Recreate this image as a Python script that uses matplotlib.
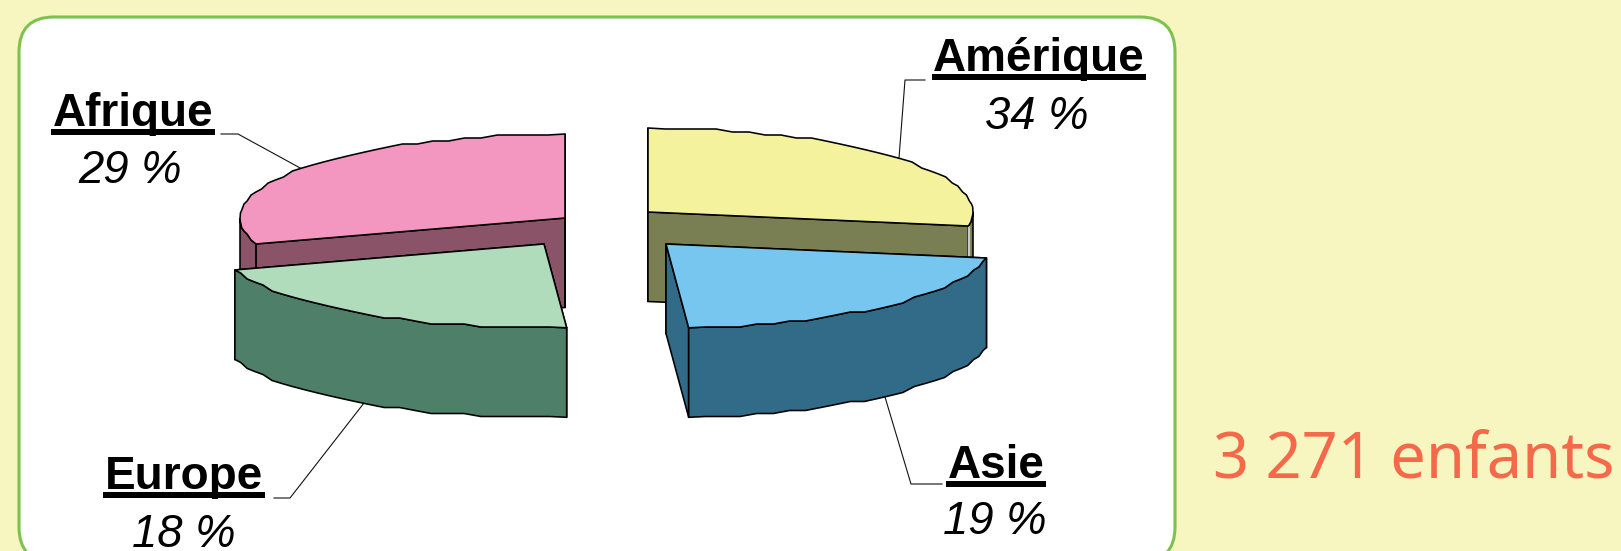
import numpy as np
import matplotlib
matplotlib.use("Agg")
import matplotlib.pyplot as plt
from matplotlib.patches import FancyBboxPatch, Polygon, Rectangle

# --- data ---
categories = ["Amérique", "Asie", "Europe", "Afrique"]
percent_labels = ["34 %", "19 %", "18 %", "29 %"]
# angular sweep of each slice as drawn in the picture (deg), clockwise from 12 o'clock
drawn_sweep = [99.6, 76.4, 76.0, 108.0]
total_label = "3 271 enfants"

# --- styles / layout ---
W, H = 1621, 551
BG = "#f7f5c0"
top_col = {"Amérique": "#f4f29c", "Asie": "#76c6ef", "Europe": "#b0dcbc", "Afrique": "#f497c0"}
side_col = {"Amérique": "#797f52", "Asie": "#316b87", "Europe": "#4e8069", "Afrique": "#8a5368"}
apex = {"Amérique": (648, 212), "Asie": (666, 244), "Europe": (544, 244), "Afrique": (565, 218)}
RX, RY, DEPTH = 325, 84, 89.5
draw_order = ["Amérique", "Afrique", "Europe", "Asie"]
label_pos = {  # name x, name baseline, pct x, pct baseline
    "Amérique": (1039, 71, 1037, 129),
    "Asie": (996, 478, 995, 534),
    "Europe": (184, 489, 184, 547),
    "Afrique": (133, 126, 130, 183),
}
leaders = {
    "Amérique": ([925, 905, 899], [80, 80, 158]),
    "Asie": ([942, 911, 885], [484, 484, 397]),
    "Europe": ([274, 290, 364], [498, 498, 403]),
    "Afrique": ([221, 238, 302], [134, 134, 169]),
}

fig = plt.figure(figsize=(W / 100, H / 100), dpi=100, facecolor=BG)
ax = fig.add_axes([0, 0, 1, 1])
ax.set_xlim(0, W)
ax.set_ylim(H, 0)
ax.axis("off")

ax.add_patch(FancyBboxPatch((19 + 35, 17 + 35), 1175 - 19 - 70, 562 - 17 - 70,
                            boxstyle="round,pad=35,rounding_size=35",
                            fc="white", ec="#7dc24f", lw=2.2, zorder=1))


def rim(cx, cy, t0, t1):
    """Ellipse arc with the coarse, wavy outline of a low-resolution rendering."""
    n = max(int(abs(t1 - t0) / 3.0), 2)
    ts = np.radians(np.linspace(t0, t1, n + 1))
    x = cx + RX * np.cos(ts)
    y = cy - RY * np.sin(ts)
    q = np.round(y / 3.0) * 3.0
    q[0], q[-1] = y[0], y[-1]
    return np.column_stack([x, q])


edges = np.concatenate([[0], np.cumsum(drawn_sweep)])
z = 2
LW = 1.15
for name in draw_order:
    k = categories.index(name)
    a0, a1 = 90 - edges[k], 90 - edges[k + 1]
    cx, cy = apex[name]
    arc = rim(cx, cy, a0, a1)
    c = np.array([[cx, cy]])
    # radial walls
    for a in (a0, a1):
        t = np.radians(a)
        p = np.array([cx + RX * np.cos(t), cy - RY * np.sin(t)])
        q = np.array([[cx, cy], p, p + [0, DEPTH], [cx, cy + DEPTH]])
        ax.add_patch(Polygon(q, closed=True, fc=side_col[name], ec="black", lw=LW, zorder=z))
    z += 1
    # outer wall: only the part of the rim turned towards the viewer
    r0, r1 = max(a1, -180), min(a0, 0)
    f = rim(cx, cy, r1, r0)
    poly = np.vstack([f, (f + [0, DEPTH])[::-1]])
    ax.add_patch(Polygon(poly, closed=True, fc=side_col[name], ec="black", lw=LW, zorder=z))
    z += 1
    # light gap at the corner of the yellow slice
    if name == "Amérique":
        t = np.radians(a1)
        gx = cx + RX * np.cos(t) + 1
        gy = cy - RY * np.sin(t)
        ax.plot([gx, gx], [gy + 1, gy + DEPTH - 2], color="#c9c9c9", lw=1.6, zorder=z)
    ax.add_patch(Polygon(np.vstack([c, arc]), closed=True, fc=top_col[name], ec="black", lw=LW, zorder=z))
    z += 1

for name in categories:
    xs, ys = leaders[name]
    ax.plot(xs, ys, color="#111111", lw=0.8, zorder=1.5)

name_texts = {}
for name, pct in zip(categories, percent_labels):
    nx, ny, px, py = label_pos[name]
    name_texts[name] = ax.text(nx, ny, name, family="Liberation Sans", weight="bold", fontsize=33,
                               ha="center", va="baseline", color="black", zorder=50)
    ax.text(px, py, pct, family="Liberation Sans", style="italic", fontsize=32.8,
            ha="center", va="baseline", color="black", zorder=50)

ax.text(1213, 478, total_label, family="Noto Sans", fontsize=45.5, color="#f4694a",
        ha="left", va="baseline", zorder=50)

# underline spans the measured width of each bold label
fig.canvas.draw()
rend = fig.canvas.get_renderer()
for name, t in name_texts.items():
    bb = t.get_window_extent(rend)
    ny = label_pos[name][1]
    ax.add_patch(Rectangle((bb.x0 - 1.5, ny + 3.0), bb.x1 - bb.x0 + 3, 6.4, fc="black", ec="none", zorder=50))

fig.savefig("out.png", dpi=100, facecolor=BG)
